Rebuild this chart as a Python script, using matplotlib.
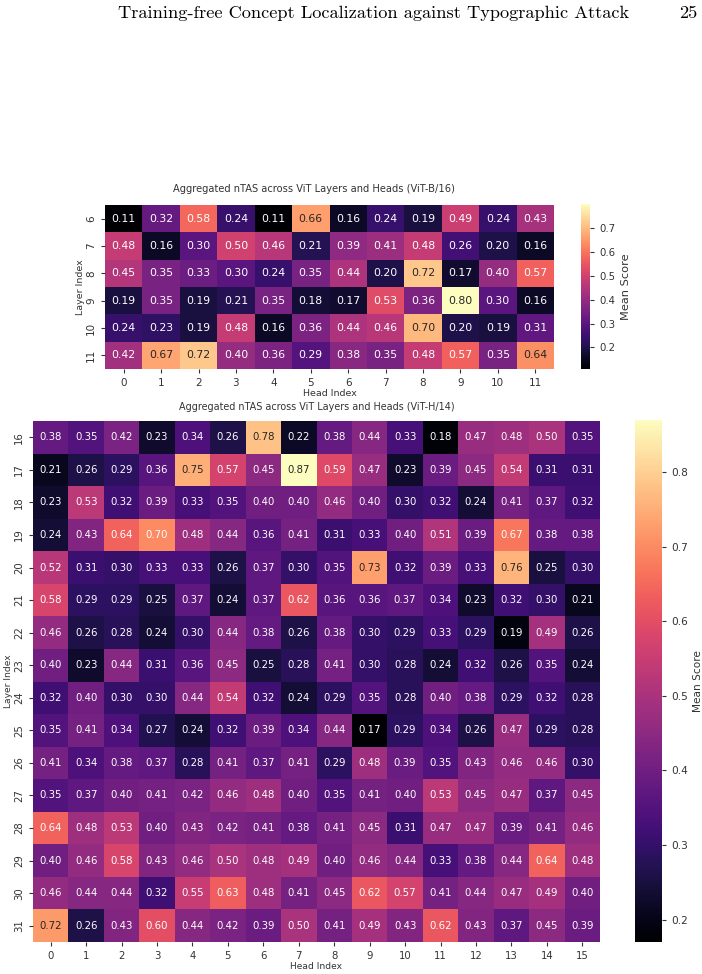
import numpy as np
import matplotlib
matplotlib.use("Agg")
import matplotlib.pyplot as plt
import seaborn as sns

# ViT-B/16: layers 6-11, heads 0-11
b16_layers = [6, 7, 8, 9, 10, 11]
b16_heads = list(range(12))
b16_scores = [
    [0.11, 0.32, 0.58, 0.24, 0.11, 0.66, 0.16, 0.24, 0.19, 0.49, 0.24, 0.43],
    [0.48, 0.16, 0.30, 0.50, 0.46, 0.21, 0.39, 0.41, 0.48, 0.26, 0.20, 0.16],
    [0.45, 0.35, 0.33, 0.30, 0.24, 0.35, 0.44, 0.20, 0.72, 0.17, 0.40, 0.57],
    [0.19, 0.35, 0.19, 0.21, 0.35, 0.18, 0.17, 0.53, 0.36, 0.80, 0.30, 0.16],
    [0.24, 0.23, 0.19, 0.48, 0.16, 0.36, 0.44, 0.46, 0.70, 0.20, 0.19, 0.31],
    [0.42, 0.67, 0.72, 0.40, 0.36, 0.29, 0.38, 0.35, 0.48, 0.57, 0.35, 0.64],
]
b16_cbar_ticks = [0.2, 0.3, 0.4, 0.5, 0.6, 0.7]

# ViT-H/14: layers 16-31, heads 0-15
h14_layers = list(range(16, 32))
h14_heads = list(range(16))
h14_scores = [
    [0.38, 0.35, 0.42, 0.23, 0.34, 0.26, 0.78, 0.22, 0.38, 0.44, 0.33, 0.18, 0.47, 0.48, 0.50, 0.35],
    [0.21, 0.26, 0.29, 0.36, 0.75, 0.57, 0.45, 0.87, 0.59, 0.47, 0.23, 0.39, 0.45, 0.54, 0.31, 0.31],
    [0.23, 0.53, 0.32, 0.39, 0.33, 0.35, 0.40, 0.40, 0.46, 0.40, 0.30, 0.32, 0.24, 0.41, 0.37, 0.32],
    [0.24, 0.43, 0.64, 0.70, 0.48, 0.44, 0.36, 0.41, 0.31, 0.33, 0.40, 0.51, 0.39, 0.67, 0.38, 0.38],
    [0.52, 0.31, 0.30, 0.33, 0.33, 0.26, 0.37, 0.30, 0.35, 0.73, 0.32, 0.39, 0.33, 0.76, 0.25, 0.30],
    [0.58, 0.29, 0.29, 0.25, 0.37, 0.24, 0.37, 0.62, 0.36, 0.36, 0.37, 0.34, 0.23, 0.32, 0.30, 0.21],
    [0.46, 0.26, 0.28, 0.24, 0.30, 0.44, 0.38, 0.26, 0.38, 0.30, 0.29, 0.33, 0.29, 0.19, 0.49, 0.26],
    [0.40, 0.23, 0.44, 0.31, 0.36, 0.45, 0.25, 0.28, 0.41, 0.30, 0.28, 0.24, 0.32, 0.26, 0.35, 0.24],
    [0.32, 0.40, 0.30, 0.30, 0.44, 0.54, 0.32, 0.24, 0.29, 0.35, 0.28, 0.40, 0.38, 0.29, 0.32, 0.28],
    [0.35, 0.41, 0.34, 0.27, 0.24, 0.32, 0.39, 0.34, 0.44, 0.17, 0.29, 0.34, 0.26, 0.47, 0.29, 0.28],
    [0.41, 0.34, 0.38, 0.37, 0.28, 0.41, 0.37, 0.41, 0.29, 0.48, 0.39, 0.35, 0.43, 0.46, 0.46, 0.30],
    [0.35, 0.37, 0.40, 0.41, 0.42, 0.46, 0.48, 0.40, 0.35, 0.41, 0.40, 0.53, 0.45, 0.47, 0.37, 0.45],
    [0.64, 0.48, 0.53, 0.40, 0.43, 0.42, 0.41, 0.38, 0.41, 0.45, 0.31, 0.47, 0.47, 0.39, 0.41, 0.46],
    [0.40, 0.46, 0.58, 0.43, 0.46, 0.50, 0.48, 0.49, 0.40, 0.46, 0.44, 0.33, 0.38, 0.44, 0.64, 0.48],
    [0.46, 0.44, 0.44, 0.32, 0.55, 0.63, 0.48, 0.41, 0.45, 0.62, 0.57, 0.41, 0.44, 0.47, 0.49, 0.40],
    [0.72, 0.26, 0.43, 0.60, 0.44, 0.42, 0.39, 0.50, 0.41, 0.49, 0.43, 0.62, 0.43, 0.37, 0.45, 0.39],
]
h14_cbar_ticks = [0.2, 0.3, 0.4, 0.5, 0.6, 0.7, 0.8]

W, H = 702, 974
fig = plt.figure(figsize=(W / 100, H / 100), dpi=100)

def px_axes(x0, y0, x1, y1):
    # pixel box (top-left origin) -> figure axes
    return fig.add_axes([x0 / W, 1 - y1 / H, (x1 - x0) / W, (y1 - y0) / H])

txt = "0.2"

def draw(ax, cax, data, rows, cols, ticks, title, annot_fs, tick_fs, lab_fs, title_fs,
         title_pad, cbar_fs, cbar_lab_fs):
    sns.heatmap(np.array(data), ax=ax, cbar_ax=cax, cmap="magma", annot=True, fmt=".2f",
                annot_kws={"fontsize": annot_fs}, xticklabels=cols, yticklabels=rows,
                cbar_kws={"label": "Mean Score", "ticks": ticks})
    ax.set_title(title, fontsize=title_fs, color=txt, pad=title_pad)
    ax.set_xlabel("Head Index", fontsize=lab_fs, color=txt, labelpad=1)
    ax.set_ylabel("Layer Index", fontsize=lab_fs, color=txt, labelpad=1)
    ax.tick_params(labelsize=tick_fs, colors=txt, length=3)
    plt.setp(ax.get_yticklabels(), rotation=90, va="center")
    plt.setp(ax.get_xticklabels(), rotation=0)
    cax.tick_params(labelsize=cbar_fs, colors=txt, length=3)
    cax.yaxis.label.set_size(cbar_lab_fs)
    cax.yaxis.label.set_color(txt)

ax1 = px_axes(105, 205, 554, 369)
cax1 = px_axes(581, 204, 590, 369)
draw(ax1, cax1, b16_scores, b16_layers, b16_heads, b16_cbar_ticks,
     "Aggregated nTAS across ViT Layers and Heads (ViT-B/16)",
     7.8, 7.5, 6.8, 7.1, 9, 7.3, 8.2)
# the top title sits a bit left of the heatmap centre in the original
ax1.title.set_x(0.465)

ax2 = px_axes(33, 421, 600, 942)
cax2 = px_axes(635, 420, 662, 942)
draw(ax2, cax2, h14_scores, h14_layers, h14_heads, h14_cbar_ticks,
     "Aggregated nTAS across ViT Layers and Heads (ViT-H/14)",
     7.3, 7.3, 6.6, 6.9, 8, 7.6, 7.6)

# page header
fig.text(118 / W, 1 - 13 / H, "Training-free Concept Localization against Typographic Attack",
         family="cmr10", fontsize=13.2, va="center", ha="left")
fig.text(697 / W, 1 - 13 / H, "25", family="cmr10", fontsize=13.2, va="center", ha="right")

fig.savefig("out.png", dpi=100)
